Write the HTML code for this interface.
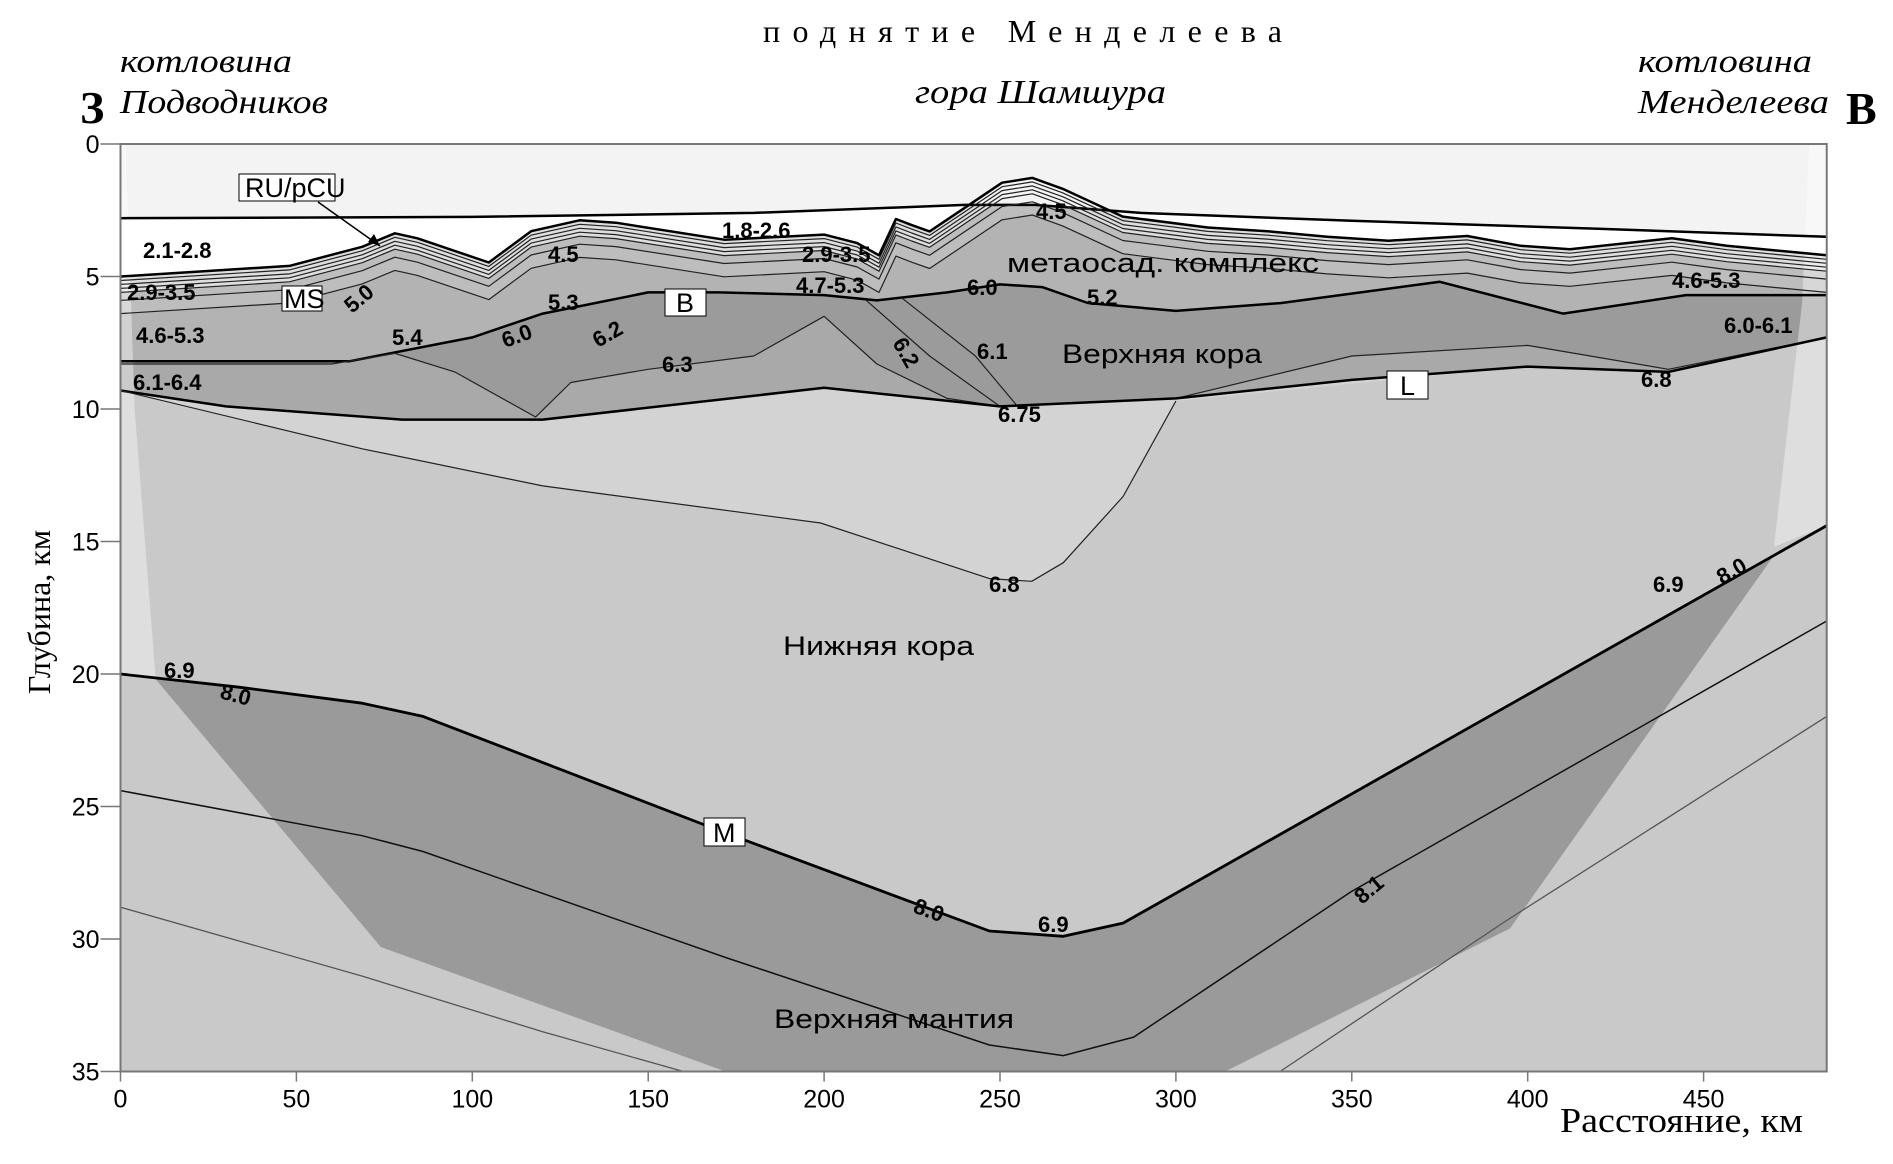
<!DOCTYPE html>
<html><head><meta charset="utf-8"><style>
html,body{margin:0;padding:0;background:#fff;}
svg{display:block;}
.n{font-family:"Liberation Sans",sans-serif;font-weight:bold;font-size:22px;fill:#000;}
.t{font-family:"Liberation Sans",sans-serif;font-size:27px;fill:#000;}
.s{font-family:"Liberation Serif",serif;fill:#000;}
.tick{font-family:"Liberation Sans",sans-serif;font-size:25px;fill:#000;}
</style></head><body>
<svg id="chart" width="1893" height="1164" viewBox="0 0 1893 1164" xmlns="http://www.w3.org/2000/svg">
<g id="fills"></g>
<g id="lines"></g>
<g id="axes"></g>
<g id="labels">
<text class="s" x="763" y="42" font-size="32" textLength="519" lengthAdjust="spacing">поднятие Менделеева</text>
<text class="s" x="915" y="103" font-size="34" font-style="italic" textLength="251" lengthAdjust="spacingAndGlyphs">гора Шамшура</text>
<text class="s" x="120" y="72" font-size="33" font-style="italic" textLength="172" lengthAdjust="spacingAndGlyphs">котловина</text>
<text class="s" x="120" y="113" font-size="34" font-style="italic" textLength="208" lengthAdjust="spacingAndGlyphs">Подводников</text>
<text class="s" x="80" y="123" font-size="46" font-weight="bold">З</text>
<text class="s" x="1638" y="72" font-size="33" font-style="italic" textLength="174" lengthAdjust="spacingAndGlyphs">котловина</text>
<text class="s" x="1638" y="113" font-size="34" font-style="italic" textLength="191" lengthAdjust="spacingAndGlyphs">Менделеева</text>
<text class="s" x="1846" y="124" font-size="46" font-weight="bold">В</text>
<text class="s" transform="translate(50,612) rotate(-90)" text-anchor="middle" font-size="32">Глубина, км</text>
<text class="s" x="1560" y="1132" font-size="35" textLength="243" lengthAdjust="spacingAndGlyphs">Расстояние, км</text>

<text class="n" x="143" y="258">2.1-2.8</text>
<text class="n" x="127" y="300">2.9-3.5</text>
<text class="n" x="136" y="343">4.6-5.3</text>
<text class="n" x="133" y="390">6.1-6.4</text>
<text class="n" transform="translate(352,314) rotate(-40)">5.0</text>
<text class="n" x="392" y="345">5.4</text>
<text class="n" transform="translate(505,348) rotate(-20)">6.0</text>
<text class="n" x="548" y="310">5.3</text>
<text class="n" x="548" y="262">4.5</text>
<text class="n" transform="translate(598,348) rotate(-30)">6.2</text>
<text class="n" x="662" y="372">6.3</text>
<text class="n" x="722" y="238">1.8-2.6</text>
<text class="n" x="802" y="262">2.9-3.5</text>
<text class="n" x="796" y="293">4.7-5.3</text>
<text class="n" transform="translate(892,343) rotate(60)">6.2</text>
<text class="n" x="967" y="295">6.0</text>
<text class="n" x="1036" y="219">4.5</text>
<text class="t" x="1007" y="272" textLength="312" lengthAdjust="spacingAndGlyphs">метаосад. комплекс</text>
<text class="n" x="1087" y="305">5.2</text>
<text class="n" x="977" y="359">6.1</text>
<text class="t" x="1062" y="363" textLength="200" lengthAdjust="spacingAndGlyphs">Верхняя кора</text>
<text class="n" x="998" y="422">6.75</text>
<text class="n" x="1672" y="288">4.6-5.3</text>
<text class="n" x="1724" y="333">6.0-6.1</text>
<text class="n" x="1641" y="387">6.8</text>
<text class="n" x="989" y="592">6.8</text>
<text class="t" x="783" y="655" textLength="191" lengthAdjust="spacingAndGlyphs">Нижняя кора</text>
<text class="n" x="1653" y="592">6.9</text>
<text class="n" transform="translate(1722,585) rotate(-30)">8.0</text>
<text class="n" x="164" y="678">6.9</text>
<text class="n" transform="translate(219,698) rotate(15)">8.0</text>
<text class="n" transform="translate(912,912) rotate(20)">8.0</text>
<text class="n" x="1038" y="932">6.9</text>
<text class="n" transform="translate(1362,905) rotate(-40)">8.1</text>
<text class="t" x="774" y="1028" textLength="240" lengthAdjust="spacingAndGlyphs">Верхняя мантия</text>

<g>
<line x1="318" y1="202" x2="380" y2="246" stroke="#000" stroke-width="1.5"/>
<polygon points="380,246 368,242 374,234" fill="#000"/>
<rect x="239" y="174" width="96" height="27" fill="#fff" stroke="#000" stroke-width="1"/>
<text class="t" x="245" y="197" font-size="24" font-weight="normal">RU/pCU</text>
</g>
<g><rect x="282" y="286" width="40" height="25" fill="#fff" stroke="#000"/><text class="t" x="284" y="308" font-size="24">MS</text></g>
<g><rect x="665" y="289" width="41" height="27" fill="#fff" stroke="#000"/><text class="t" x="676" y="312" font-size="24">B</text></g>
<g><rect x="1387" y="371" width="41" height="28" fill="#fff" stroke="#000"/><text class="t" x="1400" y="395" font-size="24">L</text></g>
<g><rect x="704" y="818" width="41" height="28" fill="#fff" stroke="#000"/><text class="t" x="713" y="842" font-size="24">M</text></g>
</g>
</svg>
<script>
// ---- data (km distance, km depth) ----
var seafloor=[[0,2.8],[100,2.75],[180,2.6],[220,2.4],[240,2.3],[260,2.3],[290,2.6],[350,2.9],[420,3.2],[485,3.5]];
var basementTop=[[0,5.0],[48,4.6],[68.7,3.88],[78,3.37],[84.4,3.56],[104.7,4.47],[116.7,3.29],[130.5,2.88],[140.8,2.97],[171.6,3.61],[200,3.42],[209.4,3.74],[215.6,4.2],[220.4,2.83],[224.9,3.06],[230,3.3],[250.6,1.46],[259.2,1.28],[267.8,1.69],[284.9,2.74],[309,3.15],[326,3.29],[343,3.5],[360.5,3.65],[382.8,3.47],[398,3.84],[412,3.97],[441,3.56],[456.6,3.84],[485,4.2]];
var boundaryB=[[0,8.2],[65,8.2],[100,7.3],[120,6.4],[150,5.6],[170,5.6],[200,5.7],[215,5.9],[235,5.6],[250,5.3],[262,5.4],[275,6.0],[300,6.3],[330,6.0],[375,5.2],[410,6.4],[445,5.7],[485,5.7]];
var upperCrustDarkBase=[[0,8.3],[60,8.3],[78,7.9],[95,8.6],[118,10.3],[128,9.0],[150,8.5],[180,8.0],[200,6.5],[215,8.3],[235,9.6],[250,9.9],[300,9.6],[350,8.0],[400,7.6],[440,8.5],[485,7.3]];
var boundaryL=[[0,9.3],[30,9.9],[80,10.4],[120,10.4],[200,9.2],[250,9.9],[300,9.6],[350,8.9],[400,8.4],[440,8.6],[485,7.3]];
var iso62=[[212,5.9],[230,8.0],[250,9.9]];
var iso60=[[222,5.8],[243,8.0],[255,9.9]];
var iso68=[[0,9.3],[68.7,11.5],[120,12.9],[199,14.3],[247,16.4],[259,16.5],[268,15.8],[285,13.3],[300,9.7]];
var moho=[[0,20.0],[34,20.5],[68.7,21.1],[86,21.6],[172,26.0],[247,29.7],[268,29.9],[285,29.4],[485,14.4]];
var mantleDarkLeft=[[10,20.2],[74,30.3],[172,35]];
var mantleDarkRight=[[314,35],[395,29.6],[470,15.2]];
var mantleIso80=[[0,24.4],[68.7,26.1],[86,26.7],[172,30.7],[247,34.0],[268,34.4],[288,33.7],[350,28.2],[485,18.0]];
var mantleIsoLowLeft=[[0,28.8],[68.7,31.4],[120,33.5],[160,35]];
var mantleIsoLowRight=[[329.6,35],[394,29.3],[485,21.6]];
var sedOffsets=[0.15,0.3,0.45,0.6];
var xTicks=[0,50,100,150,200,250,300,350,400,450];
var yTicks=[0,5,10,15,20,25,30,35];

// ---- axes ----
var X0=120.5,XK=3.518,Y0=144,YK=26.5,XMAX=485,DMAX=35;
function X(k){return X0+k*XK;}
function Y(d){return Y0+d*YK;}
function interp(line,x){
  if(x<=line[0][0])return line[0][1];
  for(var i=1;i<line.length;i++){if(x<=line[i][0]){var a=line[i-1],b=line[i];return a[1]+(b[1]-a[1])*(x-a[0])/(b[0]-a[0]);}}
  return line[line.length-1][1];
}
function pts(line){return line.map(function(p){return X(p[0]).toFixed(1)+','+Y(p[1]).toFixed(1);});}
function band(top,bot){return 'M'+pts(top).join('L')+'L'+pts(bot.slice().reverse()).join('L')+'Z';}
var NS='http://www.w3.org/2000/svg';
var fills=document.getElementById('fills'),lines=document.getElementById('lines'),axes=document.getElementById('axes');
function addPath(g,d,fill,stroke,sw,name){
  var p=document.createElementNS(NS,'path');p.setAttribute('d',d);
  p.setAttribute('fill',fill||'none');if(stroke){p.setAttribute('stroke',stroke);p.setAttribute('stroke-width',sw);p.setAttribute('stroke-linejoin','round');}
  
  
  g.appendChild(p);return p;
}
function lineD(l){return 'M'+pts(l).join('L');}
var topEdge=[[0,0],[XMAX,0]],botEdge=[[0,DMAX],[XMAX,DMAX]];
function clampBelow(line,ref){return line.map(function(p){return [p[0],Math.min(p[1],interp(ref,p[0]))];});}
function resample(line,ref){var xs=[];line.concat(ref).forEach(function(p){xs.push(p[0]);});xs.sort(function(a,b){return a-b;});return xs.map(function(x){return [x,interp(line,x)];});}

addPath(fills,band(topEdge,botEdge),'#c9c9c9',null,0,'lower-crust-fill');
addPath(fills,band(boundaryL,iso68),'#d3d3d3',null,0,'lower-crust-upper-zone');
addPath(fills,band(topEdge,boundaryL),'#a9a9a9',null,0,'upper-crust-fill');
var darkBase=clampBelow(resample(upperCrustDarkBase,boundaryL),boundaryL);
addPath(fills,band(topEdge,darkBase),'#9b9b9b',null,0,'upper-crust-dark');
addPath(fills,band(topEdge,boundaryB),'#b3b3b3',null,0,'metasediment-lower');
var sedLines=sedOffsets.map(function(o){return clampBelow(basementTop.map(function(p){return [p[0],p[1]+o];}),boundaryB);});
var deep=clampBelow(basementTop.map(function(p){return [p[0],p[1]+1.4];}),boundaryB);
var mid=clampBelow(basementTop.map(function(p){return [p[0],p[1]+0.9];}),boundaryB);
addPath(fills,band(topEdge,deep),'#bdbdbd',null,0,'metasediment-middle');
addPath(fills,band(topEdge,sedLines[3]),'#dedede',null,0,'sediment-2.9-3.5');
addPath(fills,band(topEdge,basementTop),'#ffffff',null,0,'sediment-2.1-2.8');
addPath(fills,band(topEdge,seafloor),'#f3f3f3',null,0,'water-column');
var mohoPart=moho.filter(function(p){return p[0]>10&&p[0]<470;});
var wedge=[[10,interp(moho,10)]].concat(mohoPart).concat([[470,interp(moho,470)]]).concat(mantleDarkRight.slice().reverse().slice(1)).concat(mantleDarkRight.slice(0,1)).concat(mantleDarkLeft.slice().reverse());
addPath(fills,'M'+pts(wedge).join('L')+'Z','#9a9a9a',null,0,'upper-mantle-dark');
addPath(fills,'M'+pts([[0,0],[1.5,0],[4,10],[10,20.2],[0,20]]).join('L')+'Z','rgba(255,255,255,0.4)',null,0,'left-edge-shade');
addPath(fills,'M'+pts([[480,0],[485,0],[485,14.4],[470,15.2],[478,6]]).join('L')+'Z','rgba(255,255,255,0.4)',null,0,'right-edge-shade');

addPath(lines,lineD(seafloor),null,'#000',2.5,'seafloor-line');
sedLines.forEach(function(l,i){addPath(lines,lineD(l),null,'#222',1.2,'sediment-line-'+i);});
addPath(lines,lineD(mid),null,'#222',1.2,'metasediment-line-mid');
addPath(lines,lineD(deep),null,'#222',1.2,'metasediment-line-deep');
addPath(lines,lineD(basementTop),null,'#000',2.5,'ru-pcu-line');
addPath(lines,lineD(boundaryB),null,'#000',2.5,'b-boundary-line');
addPath(lines,lineD(darkBase),null,'#222',1.2,'upper-crust-iso-line');
addPath(lines,lineD(iso62),null,'#222',1.2,'iso-6.2-line');
addPath(lines,lineD(iso60),null,'#222',1.2,'iso-6.0-line');
addPath(lines,lineD(boundaryL),null,'#000',2.5,'l-boundary-line');
addPath(lines,lineD(iso68),null,'#222',1.2,'iso-6.8-line');
addPath(lines,lineD(moho),null,'#000',2.8,'moho-line');
addPath(lines,lineD(mantleIso80),null,'#111',1.5,'mantle-iso-8.0-line');
addPath(lines,lineD(mantleIsoLowLeft),null,'#555',1.3,'mantle-iso-left-line');
addPath(lines,lineD(mantleIsoLowRight),null,'#555',1.3,'mantle-iso-right-line');

var fr=document.createElementNS(NS,'rect');
fr.setAttribute('x',X(0));fr.setAttribute('y',Y(0));fr.setAttribute('width',X(XMAX)-X(0));fr.setAttribute('height',Y(DMAX)-Y(0));
fr.setAttribute('fill','none');fr.setAttribute('stroke','#777');fr.setAttribute('stroke-width','2');


axes.appendChild(fr);
xTicks.forEach(function(v){
  var l=document.createElementNS(NS,'line');l.setAttribute('x1',X(v));l.setAttribute('x2',X(v));l.setAttribute('y1',Y(DMAX));l.setAttribute('y2',Y(DMAX)+10);l.setAttribute('stroke','#777');l.setAttribute('stroke-width','1.5');
  
  
  axes.appendChild(l);
  var t=document.createElementNS(NS,'text');t.setAttribute('x',X(v));t.setAttribute('y',Y(DMAX)+36);t.setAttribute('text-anchor','middle');t.setAttribute('class','tick');t.textContent=v;
  
  
  axes.appendChild(t);
});
yTicks.forEach(function(v){
  var l=document.createElementNS(NS,'line');l.setAttribute('x1',X(0)-20);l.setAttribute('x2',X(0));l.setAttribute('y1',Y(v));l.setAttribute('y2',Y(v));l.setAttribute('stroke','#777');l.setAttribute('stroke-width','1.5');
  
  
  axes.appendChild(l);
  var t=document.createElementNS(NS,'text');t.setAttribute('x',X(0)-21);t.setAttribute('y',Y(v)+9);t.setAttribute('text-anchor','end');t.setAttribute('class','tick');t.textContent=v;
  
  
  axes.appendChild(t);
});
</script>
</body></html>
